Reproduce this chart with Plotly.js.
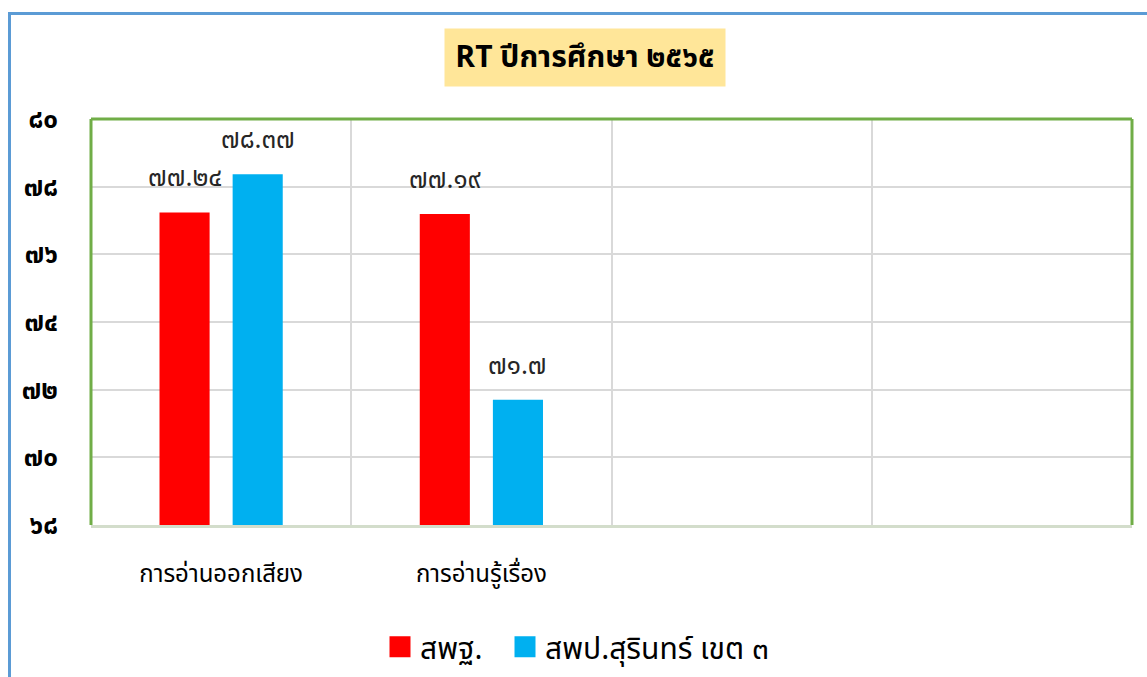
<!DOCTYPE html>
<html>
<head>
<meta charset="utf-8">
<script src="https://cdn.plot.ly/plotly-3.0.1.min.js"></script>
<style>
html,body{margin:0;padding:0;background:#fff;}
#wrap{position:relative;width:1147px;height:677px;overflow:hidden;}
#chart{position:absolute;left:0;top:0;width:1147px;height:677px;}
#frame{position:absolute;left:8px;top:12px;width:1200px;height:700px;border-left:3px solid #5B9BD5;border-top:3px solid #5B9BD5;pointer-events:none;}
</style>
</head>
<body>
<div id="wrap"><div id="chart"></div><div id="frame"></div></div>
<script>
// Data
const categories = ['การอ่านออกเสียง', 'การอ่านรู้เรื่อง', '\u200b', '\u200b\u200b'];
const seriesNames = ['สพฐ.', 'สพป.สุรินทร์ เขต ๓'];
const seriesColors = ['#FF0000', '#00B0F0'];
const obecValues = [77.24, 77.19, null, null];
const districtValues = [78.37, 71.7, null, null];
const obecLabels = ['๗๗.๒๔', '๗๗.๑๙', '', ''];
const districtLabels = ['๗๘.๓๗', '๗๑.๗', '', ''];
const yTickVals = [68, 70, 72, 74, 76, 78, 80];
const yTickText = ['๖๘', '๗๐', '๗๒', '๗๔', '๗๖', '๗๘', '๘๐'];
const titleText = 'RT ปีการศึกษา ๒๕๖๕';

const FONT = "Tahoma, 'Noto Sans Thai', 'Noto Sans', 'DejaVu Sans', sans-serif";

const seriesVals = [obecValues, districtValues];
const seriesLbls = [obecLabels, districtLabels];
const legendIds = ['legend', 'legend2'];

const traces = [];
for (let s = 0; s < 2; s++) {
  traces.push({type: 'bar', name: seriesNames[s], x: categories, y: seriesVals[s],
    marker: {color: seriesColors[s]}, hoverinfo: 'skip', showlegend: false});
}
// legend-only entries with larger square swatches
for (let s = 0; s < 2; s++) {
  traces.push({type: 'scatter', mode: 'markers', name: seriesNames[s],
    x: [categories[0]], y: [null], hoverinfo: 'skip', showlegend: true,
    legend: legendIds[s],
    marker: {symbol: 'square', size: 16, color: seriesColors[s],
             line: {color: seriesColors[s], width: 5}}});
}

const annotations = [];
const shifts = [-36.5, 36.5];
for (let s = 0; s < 2; s++) {
  for (let i = 0; i < categories.length; i++) {
    if (seriesVals[s][i] == null) continue;
    annotations.push({
      x: categories[i], y: seriesVals[s][i], xref: 'x', yref: 'y',
      text: seriesLbls[s][i], showarrow: false,
      xshift: shifts[s], yshift: 12, yanchor: 'bottom',
      font: {family: FONT, size: 26, color: '#262626'}
    });
  }
}
annotations.push({
  xref: 'paper', yref: 'paper', x: 0.4746, y: 1.1527,
  xanchor: 'center', yanchor: 'middle', showarrow: false,
  text: '<b>' + titleText + '</b>', bgcolor: '#FFE699',
  width: 276, height: 53, borderpad: 2,
  font: {family: FONT, size: 30, color: '#000000'}
});

const legendBase = {orientation: 'h', xanchor: 'left', y: -0.30, yanchor: 'middle',
  font: {family: FONT, size: 30, color: '#000000'}, itemwidth: 30,
  itemsizing: 'trace', bgcolor: 'rgba(0,0,0,0)'};

const layout = {
  width: 1147, height: 677,
  margin: {l: 91, r: 15, t: 119, b: 152, autoexpand: false},
  paper_bgcolor: '#ffffff', plot_bgcolor: '#ffffff',
  barmode: 'group', bargap: 0.438, bargroupgap: 0.315,
  showlegend: true,
  legend: Object.assign({}, legendBase, {x: (380 - 91) / 1041}),
  legend2: Object.assign({}, legendBase, {x: (505 - 91) / 1041}),
  xaxis: {
    type: 'category', categoryorder: 'array', categoryarray: categories,
    range: [-0.5, 3.5], tickson: 'boundaries', ticks: '',
    showgrid: true, gridcolor: '#D9D9D9', gridwidth: 2,
    showline: true, linecolor: '#D3DDCB', linewidth: 3,
    tickfont: {family: FONT, size: 24, color: '#000000'},
    ticklabelstandoff: 25, fixedrange: true
  },
  yaxis: {
    range: [68, 80], tickvals: yTickVals, ticktext: yTickText, ticks: '',
    showgrid: true, gridcolor: '#D9D9D9', gridwidth: 2, zeroline: false,
    showline: false,
    tickfont: {family: FONT, size: 26, color: '#000000', weight: 'bold'},
    ticklabelstandoff: 32, fixedrange: true
  },
  shapes: [
    {type: 'line', xref: 'paper', yref: 'paper', x0: 0, x1: 0, y0: 0, y1: 1,
     line: {color: '#70AD47', width: 3}},
    {type: 'line', xref: 'paper', yref: 'paper', x0: 0, x1: 1, y0: 1, y1: 1,
     line: {color: '#70AD47', width: 3}},
    {type: 'line', xref: 'paper', yref: 'paper', x0: 1, x1: 1, y0: 0, y1: 1,
     line: {color: '#70AD47', width: 3}}
  ],
  annotations: annotations
};

Plotly.newPlot('chart', traces, layout, {displayModeBar: false, staticPlot: true});
</script>
</body>
</html>
